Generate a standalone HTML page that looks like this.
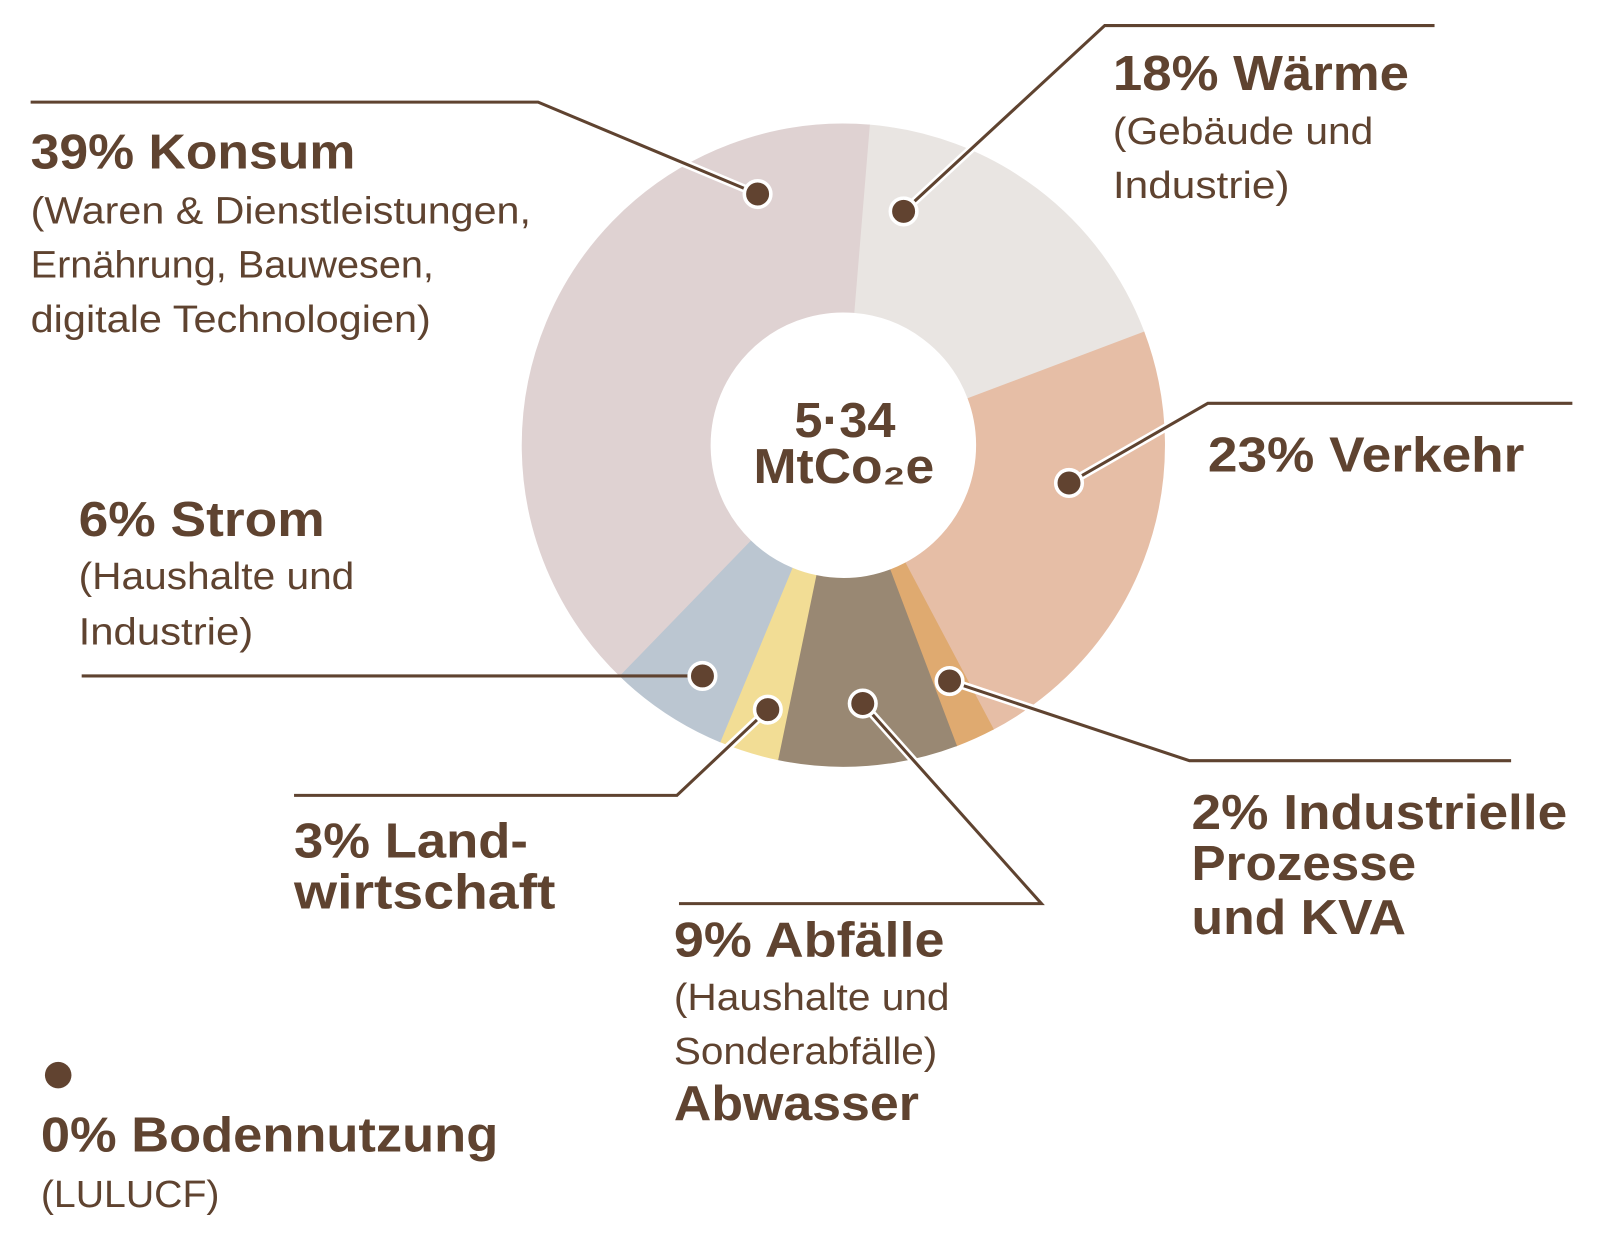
<!DOCTYPE html>
<html><head><meta charset="utf-8"><style>
html,body{margin:0;padding:0;background:#fff;}
svg{display:block;}
text{font-family:"Liberation Sans",sans-serif;fill:#5f4330;}
.b{font-weight:bold;font-size:48px;}
.r{font-size:37px;}
</style></head><body>
<svg width="1603" height="1241" viewBox="0 0 1570 1215.4" xmlns="http://www.w3.org/2000/svg">
<g fill="none" stroke-width="185">
<circle cx="826" cy="436" r="222.5" stroke="#e9e5e2" stroke-dasharray="252.5 2000" transform="rotate(-85.5 826 436)"/>
<circle cx="826" cy="436" r="222.5" stroke="#e6bea6" stroke-dasharray="322.5 2000" transform="rotate(-20.7 826 436)"/>
<circle cx="826" cy="436" r="222.5" stroke="#dfaa70" stroke-dasharray="29 2000" transform="rotate(62.1 826 436)"/>
<circle cx="826" cy="436" r="222.5" stroke="#998873" stroke-dasharray="126.8 2000" transform="rotate(69.3 826 436)"/>
<circle cx="826" cy="436" r="222.5" stroke="#f2dd95" stroke-dasharray="42.9 2000" transform="rotate(101.7 826 436)"/>
<circle cx="826" cy="436" r="222.5" stroke="#bbc6d1" stroke-dasharray="84.9 2000" transform="rotate(112.5 826 436)"/>
<circle cx="826" cy="436" r="222.5" stroke="#dfd2d2" stroke-dasharray="546 2000" transform="rotate(134.1 826 436)"/>
</g>
<g fill="none" stroke="#fff" stroke-width="8">
<polyline points="527,100 742,190"/>
<polyline points="1082,25 885,207"/>
<polyline points="1183,395 1047,473"/>
<polyline points="930,667 1165,745"/>
<polyline points="752,695 663,779"/>
<polyline points="845,689 1020,885"/>
</g>
<g fill="none" stroke="#5f4330" stroke-width="3">
<polyline points="30,100 527,100 742,190"/>
<polyline points="1405,25 1082,25 885,207"/>
<polyline points="1540,395 1183,395 1047,473"/>
<polyline points="930,667 1165,745 1480,745"/>
<polyline points="80,662 688,662"/>
<polyline points="752,695 663,779 288,779"/>
<polyline points="845,689 1020,885 665,885"/>
</g>
<g fill="#614330" stroke="#fff" stroke-width="3.5">
<circle cx="742" cy="190" r="13"/>
<circle cx="885" cy="207" r="13"/>
<circle cx="1047" cy="473" r="13"/>
<circle cx="930" cy="667" r="13"/>
<circle cx="688" cy="662" r="13"/>
<circle cx="752" cy="695" r="13"/>
<circle cx="845" cy="689" r="13"/>
<circle cx="57" cy="1053" r="13" stroke="none"/>
</g>
<text class="b" x="778" y="428" textLength="99" lengthAdjust="spacingAndGlyphs">5·34</text>
<text class="b" x="738" y="473" textLength="177" lengthAdjust="spacingAndGlyphs">MtCo₂e</text>

<text class="b" x="30" y="165" textLength="318" lengthAdjust="spacingAndGlyphs">39% Konsum</text>
<text class="r" x="30" y="219" textLength="490" lengthAdjust="spacingAndGlyphs">(Waren &amp; Dienstleistungen,</text>
<text class="r" x="30" y="272" textLength="395" lengthAdjust="spacingAndGlyphs">Ernährung, Bauwesen,</text>
<text class="r" x="30" y="325" textLength="392" lengthAdjust="spacingAndGlyphs">digitale Technologien)</text>

<text class="b" x="1090" y="88" textLength="290" lengthAdjust="spacingAndGlyphs">18% Wärme</text>
<text class="r" x="1090" y="141" textLength="255" lengthAdjust="spacingAndGlyphs">(Gebäude und</text>
<text class="r" x="1090" y="194" textLength="173" lengthAdjust="spacingAndGlyphs">Industrie)</text>

<text class="b" x="1183" y="462" textLength="310" lengthAdjust="spacingAndGlyphs">23% Verkehr</text>

<text class="b" x="77" y="525" textLength="241" lengthAdjust="spacingAndGlyphs">6% Strom</text>
<text class="r" x="77" y="577" textLength="270" lengthAdjust="spacingAndGlyphs">(Haushalte und</text>
<text class="r" x="77" y="631" textLength="171" lengthAdjust="spacingAndGlyphs">Industrie)</text>

<text class="b" x="288" y="840" textLength="229" lengthAdjust="spacingAndGlyphs">3% Land-</text>
<text class="b" x="288" y="890" textLength="256" lengthAdjust="spacingAndGlyphs">wirtschaft</text>

<text class="b" x="1167" y="812" textLength="368" lengthAdjust="spacingAndGlyphs">2% Industrielle</text>
<text class="b" x="1167" y="862" textLength="220" lengthAdjust="spacingAndGlyphs">Prozesse</text>
<text class="b" x="1167" y="915" textLength="210" lengthAdjust="spacingAndGlyphs">und KVA</text>

<text class="b" x="660" y="937" textLength="265" lengthAdjust="spacingAndGlyphs">9% Abfälle</text>
<text class="r" x="660" y="989" textLength="270" lengthAdjust="spacingAndGlyphs">(Haushalte und</text>
<text class="r" x="660" y="1042" textLength="258" lengthAdjust="spacingAndGlyphs">Sonderabfälle)</text>
<text class="b" x="660" y="1097" textLength="240" lengthAdjust="spacingAndGlyphs">Abwasser</text>

<text class="b" x="40" y="1128" textLength="448" lengthAdjust="spacingAndGlyphs">0% Bodennutzung</text>
<text class="r" x="40" y="1182" textLength="175" lengthAdjust="spacingAndGlyphs">(LULUCF)</text>
</svg>
</body></html>
